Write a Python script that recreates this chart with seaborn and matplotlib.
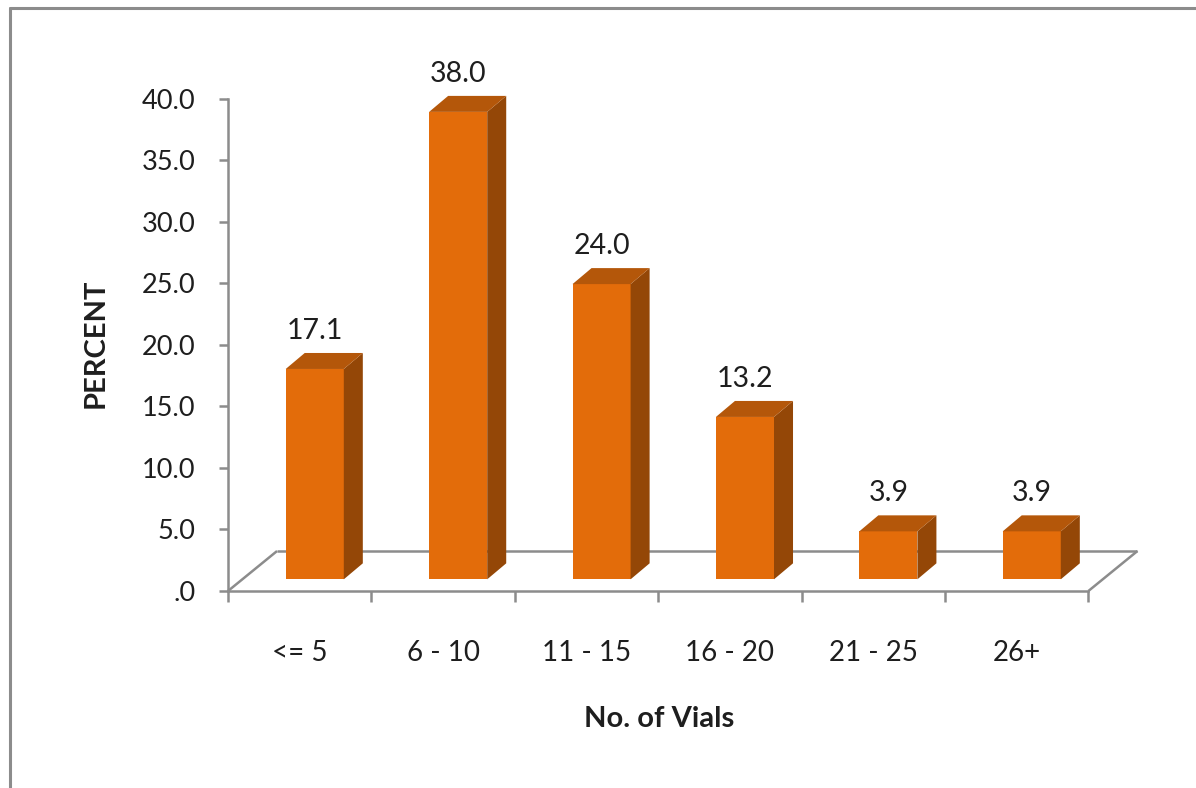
import matplotlib
matplotlib.use("Agg")
import matplotlib.pyplot as plt
from matplotlib.patches import Polygon
from matplotlib.lines import Line2D
import seaborn as sns

# Share of respondents by number of vials
categories = ["<= 5", "6 - 10", "11 - 15", "16 - 20", "21 - 25", "26+"]
percent = [17.1, 38.0, 24.0, 13.2, 3.9, 3.9]
y_ticks = [0, 5, 10, 15, 20, 25, 30, 35, 40]
y_tick_labels = [".0", "5.0", "10.0", "15.0", "20.0", "25.0", "30.0", "35.0", "40.0"]

sns.set_style("white")
plt.rcParams["font.family"] = ["Lato", "DejaVu Sans"]

FRONT = "#E36C0A"
SIDE = "#944707"
TOP = "#B4570A"
GREY = "#8C8C8C"
TEXT = "#1E1E1E"

fig = plt.figure(figsize=(11.96, 7.88), dpi=100)
ax = fig.add_axes([0.19064, 0.25, 0.7616, 0.6244])

sns.barplot(x=categories, y=percent, color=FRONT, saturation=1,
            width=0.405, linewidth=0, ax=ax, zorder=3)

# oblique projection of the floor and the bar depth
shift = 0.105          # bars stand behind the front edge of the floor
lift = 0.95            # front edge of the floor lies below the bar bases
floor_dx, floor_dy = 0.342, 3.25
depth_dx, depth_dy = 0.1326, 1.30

n = len(categories)
x_left = -0.5 - shift
x_right = n - 0.5 - shift
y_front = -lift
y_back = y_front + floor_dy

floor_kw = dict(color=GREY, lw=1.8, clip_on=False, zorder=1, solid_capstyle="butt")
ax.plot([x_left + floor_dx, x_right + floor_dx], [y_back, y_back], **floor_kw)
ax.plot([x_left, x_left + floor_dx], [y_front, y_back], **floor_kw)
ax.plot([x_right, x_right + floor_dx], [y_front, y_back], **floor_kw)

for patch, val in zip(ax.patches, percent):
    x0 = patch.get_x()
    w = patch.get_width()
    x1 = x0 + w
    side = Polygon([(x1, 0), (x1 + depth_dx, depth_dy),
                    (x1 + depth_dx, val + depth_dy), (x1, val)],
                   closed=True, fc=SIDE, ec="none", clip_on=False, zorder=3)
    top = Polygon([(x0, val), (x1, val), (x1 + depth_dx, val + depth_dy),
                   (x0 + depth_dx, val + depth_dy)],
                  closed=True, fc=TOP, ec="none", clip_on=False, zorder=3)
    ax.add_patch(side)
    ax.add_patch(top)
    ax.text(x0 + w / 2, val + depth_dy + 0.75, f"{val:.1f}", ha="center",
            va="bottom", fontsize=20.5, color=TEXT, clip_on=False)

ax.set_xlim(x_left, x_right + floor_dx + 0.01)
ax.set_ylim(-lift, 40 - lift)

for s in ("top", "right"):
    ax.spines[s].set_visible(False)
ax.spines["left"].set_color(GREY)
ax.spines["left"].set_linewidth(1.8)
ax.spines["bottom"].set_color(GREY)
ax.spines["bottom"].set_linewidth(1.8)
ax.spines["bottom"].set_bounds(x_left, x_right)

ax.set_yticks([v - lift for v in y_ticks], y_tick_labels)
ax.set_xticks([i - shift for i in range(n)], categories)
ax.set_xticks([i - 0.5 - shift for i in range(n + 1)], minor=True)

ax.tick_params(axis="y", which="major", left=True, direction="out", length=6.5,
               width=1.8, color=GREY, pad=17, labelsize=19.5, labelcolor=TEXT)
ax.tick_params(axis="x", which="major", bottom=True, length=0, pad=35,
               labelsize=20, labelcolor=TEXT)
ax.tick_params(axis="x", which="minor", bottom=True, direction="out", length=8,
               width=1.8, color=GREY)

ax.set_ylabel("PERCENT", fontsize=21, fontweight="bold", color=TEXT)
ax.yaxis.set_label_coords(-0.131, 0.504)
ax.set_xlabel("No. of Vials", fontsize=21, fontweight="bold", color=TEXT)
ax.xaxis.set_label_coords(0.473, -0.234)

# chart-area frame
fig.add_artist(Line2D([9.5 / 1196, 9.5 / 1196], [0, 1 - 7.5 / 788],
                      transform=fig.transFigure, color=GREY, lw=2.2))
fig.add_artist(Line2D([9.5 / 1196, 1], [1 - 7.5 / 788, 1 - 7.5 / 788],
                      transform=fig.transFigure, color=GREY, lw=2.2))

fig.savefig("out.png", dpi=100, facecolor="white")
